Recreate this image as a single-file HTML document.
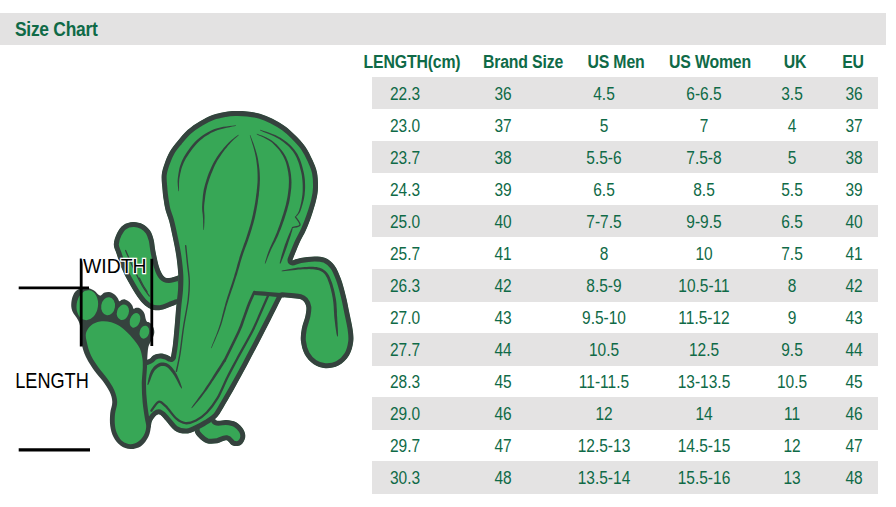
<!DOCTYPE html>
<html lang="en">
<head>
<meta charset="utf-8">
<title>Size Chart</title>
<style>
html,body{margin:0;padding:0;background:#fff;}
body{width:896px;height:507px;position:relative;overflow:hidden;font-family:"Liberation Sans",sans-serif;color:#0f6a47;}
.bar{position:absolute;left:0;top:13px;width:886px;height:32px;background:#e3e2e2;}
.title{position:absolute;left:15px;top:17.3px;font-size:20px;font-weight:bold;line-height:24px;white-space:nowrap;transform-origin:0 50%;transform:scaleX(.87);letter-spacing:-0.3px;}
.hrow{position:absolute;left:0;top:49px;width:896px;height:26px;}
.h{position:absolute;top:0.4px;width:200px;text-align:center;font-size:18px;font-weight:bold;line-height:26px;white-space:nowrap;transform:scaleX(.88);letter-spacing:-0.2px;}
.row{position:absolute;left:372px;width:506px;height:32.3px;}
.row.g{background:#e4e3e3;}
.d{position:absolute;top:1px;width:100px;margin-left:-372px;text-align:center;font-size:17.5px;line-height:32px;white-space:nowrap;transform:scaleX(.885);}
svg{position:absolute;left:0;top:0;}
</style>
</head>
<body>
<div class="bar"></div>
<div class="title">Size Chart</div>
<div class="hrow">
<span class="h" style="left:311.9px">LENGTH(cm)</span>
<span class="h" style="left:423.2px">Brand Size</span>
<span class="h" style="left:515.8px">US Men</span>
<span class="h" style="left:610.4px">US Women</span>
<span class="h" style="left:694.5px">UK</span>
<span class="h" style="left:752.6px">EU</span>
</div>
<div class="row g" style="top:77.00px">
<span class="d" style="left:355.0px">22.3</span>
<span class="d" style="left:453.2px">36</span>
<span class="d" style="left:554.0px">4.5</span>
<span class="d" style="left:653.5px">6-6.5</span>
<span class="d" style="left:742.0px">3.5</span>
<span class="d" style="left:804.0px">36</span>
</div>
<div class="row" style="top:109.04px">
<span class="d" style="left:355.0px">23.0</span>
<span class="d" style="left:453.2px">37</span>
<span class="d" style="left:554.0px">5</span>
<span class="d" style="left:653.5px">7</span>
<span class="d" style="left:742.0px">4</span>
<span class="d" style="left:804.0px">37</span>
</div>
<div class="row g" style="top:141.08px">
<span class="d" style="left:355.0px">23.7</span>
<span class="d" style="left:453.2px">38</span>
<span class="d" style="left:554.0px">5.5-6</span>
<span class="d" style="left:653.5px">7.5-8</span>
<span class="d" style="left:742.0px">5</span>
<span class="d" style="left:804.0px">38</span>
</div>
<div class="row" style="top:173.12px">
<span class="d" style="left:355.0px">24.3</span>
<span class="d" style="left:453.2px">39</span>
<span class="d" style="left:554.0px">6.5</span>
<span class="d" style="left:653.5px">8.5</span>
<span class="d" style="left:742.0px">5.5</span>
<span class="d" style="left:804.0px">39</span>
</div>
<div class="row g" style="top:205.16px">
<span class="d" style="left:355.0px">25.0</span>
<span class="d" style="left:453.2px">40</span>
<span class="d" style="left:554.0px">7-7.5</span>
<span class="d" style="left:653.5px">9-9.5</span>
<span class="d" style="left:742.0px">6.5</span>
<span class="d" style="left:804.0px">40</span>
</div>
<div class="row" style="top:237.20px">
<span class="d" style="left:355.0px">25.7</span>
<span class="d" style="left:453.2px">41</span>
<span class="d" style="left:554.0px">8</span>
<span class="d" style="left:653.5px">10</span>
<span class="d" style="left:742.0px">7.5</span>
<span class="d" style="left:804.0px">41</span>
</div>
<div class="row g" style="top:269.24px">
<span class="d" style="left:355.0px">26.3</span>
<span class="d" style="left:453.2px">42</span>
<span class="d" style="left:554.0px">8.5-9</span>
<span class="d" style="left:653.5px">10.5-11</span>
<span class="d" style="left:742.0px">8</span>
<span class="d" style="left:804.0px">42</span>
</div>
<div class="row" style="top:301.28px">
<span class="d" style="left:355.0px">27.0</span>
<span class="d" style="left:453.2px">43</span>
<span class="d" style="left:554.0px">9.5-10</span>
<span class="d" style="left:653.5px">11.5-12</span>
<span class="d" style="left:742.0px">9</span>
<span class="d" style="left:804.0px">43</span>
</div>
<div class="row g" style="top:333.32px">
<span class="d" style="left:355.0px">27.7</span>
<span class="d" style="left:453.2px">44</span>
<span class="d" style="left:554.0px">10.5</span>
<span class="d" style="left:653.5px">12.5</span>
<span class="d" style="left:742.0px">9.5</span>
<span class="d" style="left:804.0px">44</span>
</div>
<div class="row" style="top:365.36px">
<span class="d" style="left:355.0px">28.3</span>
<span class="d" style="left:453.2px">45</span>
<span class="d" style="left:554.0px">11-11.5</span>
<span class="d" style="left:653.5px">13-13.5</span>
<span class="d" style="left:742.0px">10.5</span>
<span class="d" style="left:804.0px">45</span>
</div>
<div class="row g" style="top:397.40px">
<span class="d" style="left:355.0px">29.0</span>
<span class="d" style="left:453.2px">46</span>
<span class="d" style="left:554.0px">12</span>
<span class="d" style="left:653.5px">14</span>
<span class="d" style="left:742.0px">11</span>
<span class="d" style="left:804.0px">46</span>
</div>
<div class="row" style="top:429.44px">
<span class="d" style="left:355.0px">29.7</span>
<span class="d" style="left:453.2px">47</span>
<span class="d" style="left:554.0px">12.5-13</span>
<span class="d" style="left:653.5px">14.5-15</span>
<span class="d" style="left:742.0px">12</span>
<span class="d" style="left:804.0px">47</span>
</div>
<div class="row g" style="top:461.48px">
<span class="d" style="left:355.0px">30.3</span>
<span class="d" style="left:453.2px">48</span>
<span class="d" style="left:554.0px">13.5-14</span>
<span class="d" style="left:653.5px">15.5-16</span>
<span class="d" style="left:742.0px">13</span>
<span class="d" style="left:804.0px">48</span>
</div>
<svg width="896" height="507" viewBox="0 0 896 507">
<clipPath id="sf"><path d="M213.0,414.0C213.6,415.1 214.4,419.5 216.6,420.5C218.8,421.5 223.1,419.7 226.4,420.0C229.7,420.3 233.4,420.7 236.2,422.3C239.0,423.9 241.9,427.0 243.4,429.5C244.9,432.0 245.6,434.9 245.2,437.5C244.8,440.1 242.8,443.7 240.7,445.0C238.6,446.3 235.1,446.3 232.7,445.5C230.3,444.7 228.9,440.6 226.4,440.2C223.9,439.8 220.8,442.7 217.5,443.2C214.2,443.7 209.9,444.1 206.8,443.2C203.7,442.2 200.7,439.6 198.7,437.5C196.7,435.4 194.7,433.3 194.6,430.4C194.5,427.5 194.9,422.7 198.0,420.0C201.1,417.3 210.5,415.0 213.0,414.0Z"/></clipPath>
<path d="M213.0,414.0C213.6,415.1 214.4,419.5 216.6,420.5C218.8,421.5 223.1,419.7 226.4,420.0C229.7,420.3 233.4,420.7 236.2,422.3C239.0,423.9 241.9,427.0 243.4,429.5C244.9,432.0 245.6,434.9 245.2,437.5C244.8,440.1 242.8,443.7 240.7,445.0C238.6,446.3 235.1,446.3 232.7,445.5C230.3,444.7 228.9,440.6 226.4,440.2C223.9,439.8 220.8,442.7 217.5,443.2C214.2,443.7 209.9,444.1 206.8,443.2C203.7,442.2 200.7,439.6 198.7,437.5C196.7,435.4 194.7,433.3 194.6,430.4C194.5,427.5 194.9,422.7 198.0,420.0C201.1,417.3 210.5,415.0 213.0,414.0Z" fill="#37a756" stroke="#35423e" stroke-width="10.0" stroke-linejoin="round" clip-path="url(#sf)"/>
<clipPath id="la"><path d="M182.0,273.0C181.3,273.4 180.2,274.7 178.0,275.5C175.8,276.3 171.4,277.9 169.0,278.0C166.6,278.1 165.2,277.9 163.5,276.0C161.8,274.1 160.2,270.7 158.9,266.5C157.6,262.3 156.3,255.5 155.4,251.0C154.5,246.5 154.5,242.9 153.6,239.5C152.7,236.1 151.8,233.0 150.0,230.5C148.2,228.0 145.7,225.7 142.9,224.3C140.1,222.9 136.3,221.9 133.0,222.1C129.7,222.2 125.9,223.3 123.2,225.2C120.5,227.0 118.6,230.0 117.0,233.2C115.4,236.4 113.8,241.1 113.8,244.6C113.8,248.1 115.5,250.4 116.8,254.4C118.1,258.4 119.9,264.0 121.7,268.3C123.5,272.6 125.1,275.8 127.4,280.0C129.7,284.2 132.7,289.4 135.3,293.4C137.9,297.3 140.7,301.1 143.2,303.7C145.7,306.3 148.0,307.7 150.3,308.8C152.6,309.9 154.9,310.2 157.0,310.3C159.1,310.4 160.4,310.3 163.0,309.6C165.6,308.9 170.1,306.9 172.4,306.0C174.8,305.1 175.2,304.8 177.1,304.0C179.0,303.2 183.2,306.7 184.0,301.5C184.8,296.3 182.3,277.8 182.0,273.0Z"/></clipPath>
<path d="M182.0,273.0C181.3,273.4 180.2,274.7 178.0,275.5C175.8,276.3 171.4,277.9 169.0,278.0C166.6,278.1 165.2,277.9 163.5,276.0C161.8,274.1 160.2,270.7 158.9,266.5C157.6,262.3 156.3,255.5 155.4,251.0C154.5,246.5 154.5,242.9 153.6,239.5C152.7,236.1 151.8,233.0 150.0,230.5C148.2,228.0 145.7,225.7 142.9,224.3C140.1,222.9 136.3,221.9 133.0,222.1C129.7,222.2 125.9,223.3 123.2,225.2C120.5,227.0 118.6,230.0 117.0,233.2C115.4,236.4 113.8,241.1 113.8,244.6C113.8,248.1 115.5,250.4 116.8,254.4C118.1,258.4 119.9,264.0 121.7,268.3C123.5,272.6 125.1,275.8 127.4,280.0C129.7,284.2 132.7,289.4 135.3,293.4C137.9,297.3 140.7,301.1 143.2,303.7C145.7,306.3 148.0,307.7 150.3,308.8C152.6,309.9 154.9,310.2 157.0,310.3C159.1,310.4 160.4,310.3 163.0,309.6C165.6,308.9 170.1,306.9 172.4,306.0C174.8,305.1 175.2,304.8 177.1,304.0C179.0,303.2 183.2,306.7 184.0,301.5C184.8,296.3 182.3,277.8 182.0,273.0Z" fill="#37a756" stroke="#35423e" stroke-width="10.0" stroke-linejoin="round" clip-path="url(#la)"/>
<path d="M125.6,250.5C126.9,253.5 130.7,262.4 133.5,268.3C136.3,274.2 139.8,281.4 142.4,286.0C145.0,290.6 148.2,294.3 149.3,296.0" fill="none" stroke="#35423e" stroke-width="1.3" stroke-linecap="round" />
<path d="M139.4,278.0C140.0,279.2 141.7,282.7 143.0,285.0C144.3,287.3 146.6,290.8 147.3,292.0" fill="none" stroke="#35423e" stroke-width="1.1" stroke-linecap="round" />
<clipPath id="mb"><path d="M171.0,357.0C171.3,354.9 172.3,349.6 172.9,344.6C173.5,339.6 174.0,333.4 174.6,326.8C175.2,320.2 175.8,311.1 176.4,305.0C177.0,298.9 177.7,295.0 178.0,290.0C178.3,285.0 178.6,280.7 178.3,275.0C178.0,269.3 177.2,262.3 176.3,256.0C175.4,249.7 173.9,242.8 172.7,237.0C171.5,231.2 170.3,225.5 169.1,221.0C167.9,216.5 166.4,213.5 165.5,210.0C164.6,206.5 164.2,203.3 163.7,200.0C163.2,196.7 162.8,194.2 162.5,190.0C162.2,185.8 161.3,179.6 161.7,175.0C162.1,170.4 163.6,166.5 165.0,162.5C166.4,158.5 167.9,154.8 170.0,151.2C172.1,147.6 174.6,144.7 177.5,141.2C180.4,137.7 183.8,133.3 187.5,130.0C191.2,126.7 195.8,123.7 200.0,121.2C204.2,118.7 208.3,116.5 212.5,115.0C216.7,113.5 221.2,112.7 225.0,112.0C228.8,111.3 231.2,111.1 235.0,111.0C238.8,110.9 243.3,111.0 247.5,111.5C251.7,112.0 255.8,112.5 260.0,113.7C264.2,114.9 268.3,116.6 272.5,118.7C276.7,120.8 281.2,123.5 285.0,126.2C288.8,128.9 291.7,131.7 295.0,135.0C298.3,138.3 302.1,142.0 305.0,146.2C307.9,150.4 310.5,155.6 312.5,160.0C314.5,164.4 316.1,167.9 317.0,172.5C317.9,177.1 318.1,182.9 318.0,187.5C317.9,192.1 317.3,195.1 316.2,200.0C315.1,204.9 312.9,211.7 311.2,216.7C309.5,221.7 308.0,225.4 306.0,230.0C304.0,234.6 301.2,239.0 299.0,244.0C296.8,249.0 293.6,257.3 292.5,260.0L292.5,260.5C293.8,260.1 296.7,258.7 300.4,258.0C304.1,257.3 310.4,256.4 314.6,256.4C318.8,256.4 322.2,256.5 325.5,258.0C328.8,259.5 331.9,262.1 334.5,265.5C337.1,268.9 338.9,273.5 340.8,278.6C342.7,283.7 344.4,290.4 345.8,296.0C347.2,301.6 348.1,306.5 349.2,312.0C350.3,317.5 351.9,324.0 352.6,329.0C353.3,334.0 353.8,337.6 353.2,342.0C352.6,346.4 351.4,351.6 349.0,355.5C346.6,359.4 342.4,363.5 338.5,365.6C334.6,367.7 329.5,368.4 325.4,368.2C321.3,368.0 317.1,366.6 313.7,364.3C310.3,362.0 306.9,358.4 304.8,354.5C302.7,350.6 301.4,345.3 300.9,341.0C300.4,336.7 301.1,332.8 301.8,328.6C302.6,324.4 304.6,319.6 305.4,316.0C306.1,312.4 306.6,309.4 306.3,307.0C306.0,304.6 304.7,302.6 303.6,301.3C302.5,300.0 301.9,299.6 299.8,299.0C297.7,298.4 294.0,298.3 291.0,298.0C288.0,297.7 283.5,297.4 282.0,297.3L282.0,297.3C280.1,301.1 274.5,312.4 270.6,320.0C266.7,327.6 262.7,335.5 258.8,343.0C254.9,350.5 251.1,357.7 247.2,365.0C243.3,372.3 238.8,380.5 235.2,387.0C231.6,393.5 228.4,399.0 225.4,404.0C222.4,409.0 220.3,413.6 217.2,417.0C214.1,420.4 210.5,422.3 207.0,424.5C203.5,426.7 199.6,428.9 196.0,430.4C192.4,431.9 189.0,433.6 185.4,433.6C181.8,433.6 177.9,432.6 174.6,430.4C171.3,428.2 168.4,423.2 165.7,420.5C163.0,417.8 160.8,414.3 158.6,414.3C156.4,414.3 153.8,418.1 152.3,420.5C150.8,422.9 151.7,426.7 149.6,428.6C147.5,430.5 141.6,431.4 140.0,432.0L140.0,432.0C139.7,425.8 138.0,406.7 138.0,395.0C138.0,383.3 139.7,367.5 140.0,362.0L140.0,362.0C141.5,361.5 146.8,360.2 149.1,359.1C151.4,358.0 151.7,356.1 153.6,355.2C155.5,354.3 158.3,353.6 160.3,353.5C162.3,353.4 164.0,354.0 165.8,354.6C167.6,355.2 170.1,356.6 171.0,357.0Z"/></clipPath>
<path d="M171.0,357.0C171.3,354.9 172.3,349.6 172.9,344.6C173.5,339.6 174.0,333.4 174.6,326.8C175.2,320.2 175.8,311.1 176.4,305.0C177.0,298.9 177.7,295.0 178.0,290.0C178.3,285.0 178.6,280.7 178.3,275.0C178.0,269.3 177.2,262.3 176.3,256.0C175.4,249.7 173.9,242.8 172.7,237.0C171.5,231.2 170.3,225.5 169.1,221.0C167.9,216.5 166.4,213.5 165.5,210.0C164.6,206.5 164.2,203.3 163.7,200.0C163.2,196.7 162.8,194.2 162.5,190.0C162.2,185.8 161.3,179.6 161.7,175.0C162.1,170.4 163.6,166.5 165.0,162.5C166.4,158.5 167.9,154.8 170.0,151.2C172.1,147.6 174.6,144.7 177.5,141.2C180.4,137.7 183.8,133.3 187.5,130.0C191.2,126.7 195.8,123.7 200.0,121.2C204.2,118.7 208.3,116.5 212.5,115.0C216.7,113.5 221.2,112.7 225.0,112.0C228.8,111.3 231.2,111.1 235.0,111.0C238.8,110.9 243.3,111.0 247.5,111.5C251.7,112.0 255.8,112.5 260.0,113.7C264.2,114.9 268.3,116.6 272.5,118.7C276.7,120.8 281.2,123.5 285.0,126.2C288.8,128.9 291.7,131.7 295.0,135.0C298.3,138.3 302.1,142.0 305.0,146.2C307.9,150.4 310.5,155.6 312.5,160.0C314.5,164.4 316.1,167.9 317.0,172.5C317.9,177.1 318.1,182.9 318.0,187.5C317.9,192.1 317.3,195.1 316.2,200.0C315.1,204.9 312.9,211.7 311.2,216.7C309.5,221.7 308.0,225.4 306.0,230.0C304.0,234.6 301.2,239.0 299.0,244.0C296.8,249.0 293.6,257.3 292.5,260.0L292.5,260.5C293.8,260.1 296.7,258.7 300.4,258.0C304.1,257.3 310.4,256.4 314.6,256.4C318.8,256.4 322.2,256.5 325.5,258.0C328.8,259.5 331.9,262.1 334.5,265.5C337.1,268.9 338.9,273.5 340.8,278.6C342.7,283.7 344.4,290.4 345.8,296.0C347.2,301.6 348.1,306.5 349.2,312.0C350.3,317.5 351.9,324.0 352.6,329.0C353.3,334.0 353.8,337.6 353.2,342.0C352.6,346.4 351.4,351.6 349.0,355.5C346.6,359.4 342.4,363.5 338.5,365.6C334.6,367.7 329.5,368.4 325.4,368.2C321.3,368.0 317.1,366.6 313.7,364.3C310.3,362.0 306.9,358.4 304.8,354.5C302.7,350.6 301.4,345.3 300.9,341.0C300.4,336.7 301.1,332.8 301.8,328.6C302.6,324.4 304.6,319.6 305.4,316.0C306.1,312.4 306.6,309.4 306.3,307.0C306.0,304.6 304.7,302.6 303.6,301.3C302.5,300.0 301.9,299.6 299.8,299.0C297.7,298.4 294.0,298.3 291.0,298.0C288.0,297.7 283.5,297.4 282.0,297.3L282.0,297.3C280.1,301.1 274.5,312.4 270.6,320.0C266.7,327.6 262.7,335.5 258.8,343.0C254.9,350.5 251.1,357.7 247.2,365.0C243.3,372.3 238.8,380.5 235.2,387.0C231.6,393.5 228.4,399.0 225.4,404.0C222.4,409.0 220.3,413.6 217.2,417.0C214.1,420.4 210.5,422.3 207.0,424.5C203.5,426.7 199.6,428.9 196.0,430.4C192.4,431.9 189.0,433.6 185.4,433.6C181.8,433.6 177.9,432.6 174.6,430.4C171.3,428.2 168.4,423.2 165.7,420.5C163.0,417.8 160.8,414.3 158.6,414.3C156.4,414.3 153.8,418.1 152.3,420.5C150.8,422.9 151.7,426.7 149.6,428.6C147.5,430.5 141.6,431.4 140.0,432.0L140.0,432.0C139.7,425.8 138.0,406.7 138.0,395.0C138.0,383.3 139.7,367.5 140.0,362.0L140.0,362.0C141.5,361.5 146.8,360.2 149.1,359.1C151.4,358.0 151.7,356.1 153.6,355.2C155.5,354.3 158.3,353.6 160.3,353.5C162.3,353.4 164.0,354.0 165.8,354.6C167.6,355.2 170.1,356.6 171.0,357.0Z" fill="#37a756" stroke="#35423e" stroke-width="10.0" stroke-linejoin="round" clip-path="url(#mb)"/>
<path d="M236.0,125.3L234.3,125.4L232.1,125.7L229.4,126.0L226.5,126.4L223.4,126.8L220.3,127.4L217.3,128.2L214.6,129.1L212.2,130.1L209.8,131.2L207.4,132.4L205.2,133.7L202.9,135.2L200.8,136.7L198.7,138.4L196.6,140.3L194.6,142.3L192.6,144.6L190.6,147.0L188.8,149.4L187.0,152.0L185.4,154.6L183.9,157.1L182.6,159.5L181.6,161.8L180.7,164.2L179.9,166.5L179.3,168.8L178.9,171.1L178.5,173.2L178.2,175.4L177.9,177.4L177.7,179.4L177.6,181.5L177.7,183.5L177.8,185.5L178.0,187.3L178.2,188.9L178.3,190.2L178.5,191.2L178.9,191.2L179.0,190.2L179.0,188.8L179.0,187.2L179.0,185.4L179.0,183.5L179.1,181.5L179.2,179.6L179.5,177.6L179.9,175.7L180.3,173.6L180.8,171.5L181.3,169.3L182.0,167.1L182.8,164.9L183.7,162.7L184.8,160.5L186.0,158.3L187.5,155.9L189.1,153.4L190.9,151.0L192.7,148.6L194.6,146.2L196.5,144.1L198.4,142.1L200.3,140.3L202.3,138.7L204.3,137.1L206.4,135.7L208.6,134.4L210.8,133.1L213.1,132.0L215.4,130.9L217.9,130.0L220.7,129.2L223.7,128.4L226.7,127.7L229.6,127.2L232.2,126.6L234.4,126.2L236.0,125.7Z" fill="#35423e"/>
<path d="M238.3,134.8L237.4,135.5L236.3,136.3L234.9,137.3L233.4,138.5L231.8,139.8L230.1,141.2L228.5,142.8L226.9,144.5L225.3,146.2L223.7,148.1L222.0,150.2L220.3,152.3L218.6,154.6L216.9,157.0L215.4,159.4L213.9,161.9L212.6,164.5L211.3,167.3L210.0,170.2L208.8,173.1L207.7,176.1L206.7,179.0L205.8,181.9L205.0,184.7L204.3,187.4L203.7,190.1L203.3,192.8L202.9,195.5L202.7,198.1L202.5,200.5L202.3,202.8L202.2,204.9L202.1,206.8L202.1,208.6L202.2,210.1L202.3,211.5L202.5,212.9L202.7,214.2L202.8,215.6L202.9,217.0L203.0,218.7L203.1,220.5L203.1,222.4L203.2,224.2L203.2,226.0L203.3,227.6L203.4,229.0L203.5,230.0L203.9,230.0L204.0,229.0L204.1,227.6L204.2,226.0L204.3,224.3L204.4,222.4L204.4,220.5L204.5,218.7L204.5,217.0L204.5,215.5L204.4,214.0L204.3,212.7L204.2,211.4L204.1,210.0L204.1,208.5L204.1,206.9L204.2,205.1L204.4,203.0L204.7,200.7L205.0,198.3L205.3,195.8L205.7,193.2L206.2,190.6L206.8,188.0L207.4,185.3L208.2,182.7L209.1,179.8L210.1,177.0L211.2,174.1L212.4,171.2L213.6,168.3L214.8,165.6L216.1,163.1L217.4,160.6L218.9,158.2L220.4,155.9L222.0,153.6L223.5,151.4L225.1,149.3L226.7,147.4L228.1,145.5L229.6,143.9L231.1,142.2L232.6,140.7L234.1,139.3L235.6,138.1L236.8,136.9L237.9,136.0L238.7,135.2Z" fill="#35423e"/>
<path d="M249.8,135.1L250.2,136.7L250.8,138.7L251.6,141.2L252.4,143.9L253.3,146.8L254.1,149.7L254.8,152.6L255.4,155.2L255.9,157.7L256.3,160.2L256.6,162.6L256.9,165.1L257.2,167.6L257.4,170.1L257.5,172.6L257.6,175.0L257.6,177.5L257.6,179.9L257.5,182.4L257.3,184.8L257.1,187.3L256.8,189.8L256.6,192.3L256.2,194.8L255.9,197.5L255.5,200.2L255.1,203.0L254.6,205.7L254.1,208.5L253.5,211.2L253.0,213.9L252.4,216.4L251.9,218.8L251.3,221.1L250.7,223.4L250.1,225.6L249.4,227.8L248.7,230.0L248.0,232.3L247.3,234.6L246.5,237.0L245.7,239.4L244.8,241.9L243.9,244.3L243.0,246.9L242.1,249.4L241.2,252.0L240.4,254.6L239.5,257.3L238.8,259.9L238.0,262.6L237.2,265.3L236.5,268.1L235.7,270.9L234.8,273.7L234.0,276.7L233.0,279.7L232.0,282.9L230.9,286.2L229.8,289.6L228.7,292.9L227.6,296.3L226.6,299.5L225.6,302.7L224.8,305.9L223.9,308.9L223.2,312.0L222.4,315.0L221.7,318.0L220.9,320.9L220.1,323.8L219.2,326.6L218.2,329.5L217.1,332.6L215.9,335.7L214.6,338.8L213.5,341.7L212.4,344.3L211.6,346.4L211.0,348.1L211.4,348.3L212.2,346.7L213.1,344.6L214.3,342.0L215.5,339.2L216.8,336.1L218.1,333.0L219.3,329.9L220.4,327.0L221.4,324.2L222.3,321.3L223.1,318.3L223.9,315.4L224.7,312.4L225.6,309.4L226.4,306.3L227.4,303.3L228.4,300.1L229.4,296.9L230.6,293.5L231.7,290.2L232.9,286.9L234.0,283.6L235.0,280.4L236.0,277.3L237.0,274.4L237.8,271.5L238.7,268.7L239.5,265.9L240.2,263.3L241.0,260.6L241.8,258.0L242.6,255.4L243.5,252.8L244.4,250.2L245.3,247.7L246.3,245.2L247.2,242.7L248.1,240.3L248.9,237.8L249.7,235.4L250.5,233.0L251.2,230.8L251.9,228.5L252.5,226.3L253.2,224.1L253.8,221.8L254.4,219.4L255.0,217.0L255.5,214.4L256.1,211.7L256.6,209.0L257.1,206.2L257.6,203.4L258.0,200.6L258.4,197.8L258.8,195.2L259.0,192.6L259.3,190.0L259.5,187.5L259.7,185.0L259.8,182.5L259.9,180.0L259.9,177.5L259.8,175.0L259.7,172.4L259.5,169.9L259.2,167.4L258.9,164.9L258.5,162.4L258.1,159.8L257.6,157.3L257.0,154.8L256.3,152.2L255.4,149.3L254.5,146.4L253.5,143.6L252.5,140.9L251.6,138.5L250.8,136.4L250.2,134.9Z" fill="#35423e"/>
<path d="M256.7,134.2L257.9,134.9L259.5,135.7L261.5,136.6L263.6,137.6L265.9,138.7L268.1,139.9L270.2,141.2L272.0,142.6L273.7,144.2L275.4,145.9L277.1,147.7L278.7,149.6L280.2,151.6L281.6,153.7L282.9,155.8L284.0,158.0L285.0,160.2L285.9,162.5L286.6,165.0L287.2,167.5L287.7,170.0L288.2,172.6L288.5,175.1L288.8,177.6L288.9,180.1L288.9,182.5L288.8,185.0L288.7,187.4L288.4,189.9L288.1,192.4L287.8,194.8L287.4,197.3L286.9,199.7L286.4,202.1L285.9,204.5L285.2,206.9L284.6,209.2L283.9,211.6L283.2,214.0L282.4,216.3L281.7,218.6L280.9,221.0L280.1,223.3L279.3,225.7L278.4,228.0L277.6,230.2L276.8,232.4L275.9,234.6L275.1,236.6L274.2,238.5L273.4,240.5L272.5,242.3L271.6,244.2L270.8,246.0L270.0,247.8L269.2,249.7L268.5,251.6L267.8,253.6L267.1,255.6L266.5,257.6L265.9,259.4L265.4,261.1L265.0,262.5L264.8,263.6L265.2,263.8L265.7,262.8L266.3,261.4L266.9,259.8L267.6,258.0L268.4,256.1L269.2,254.1L270.0,252.2L270.8,250.3L271.6,248.6L272.5,246.8L273.4,245.0L274.3,243.2L275.3,241.4L276.2,239.5L277.2,237.5L278.1,235.4L279.0,233.3L279.9,231.1L280.8,228.9L281.7,226.6L282.5,224.2L283.4,221.8L284.2,219.5L285.0,217.1L285.7,214.7L286.4,212.4L287.2,210.0L287.8,207.6L288.5,205.1L289.1,202.7L289.6,200.2L290.0,197.7L290.4,195.2L290.7,192.7L291.0,190.2L291.3,187.7L291.4,185.1L291.5,182.5L291.4,180.0L291.2,177.4L291.0,174.8L290.6,172.2L290.1,169.6L289.5,166.9L288.8,164.4L288.0,161.8L287.0,159.4L286.0,157.0L284.7,154.8L283.3,152.6L281.8,150.4L280.1,148.4L278.4,146.5L276.6,144.6L274.8,142.9L273.0,141.4L271.0,140.0L268.8,138.7L266.4,137.5L264.1,136.5L261.9,135.6L259.9,134.9L258.2,134.2L256.9,133.8Z" fill="#35423e"/>
<path d="M259.9,130.2L261.4,131.0L263.5,131.9L266.1,132.9L268.8,134.0L271.7,135.2L274.5,136.5L277.2,137.9L279.5,139.3L281.6,140.7L283.7,142.3L285.7,143.9L287.6,145.6L289.4,147.3L291.1,149.2L292.6,151.1L294.0,153.1L295.3,155.3L296.5,157.6L297.5,160.0L298.5,162.5L299.3,165.1L300.0,167.7L300.7,170.3L301.3,172.8L301.8,175.2L302.1,177.7L302.4,180.2L302.6,182.7L302.7,185.2L302.7,187.7L302.7,190.1L302.6,192.4L302.4,194.8L302.1,197.1L301.7,199.5L301.3,201.9L300.8,204.1L300.3,206.2L299.8,208.1L299.3,209.8L298.8,211.2L298.3,212.3L297.7,213.4L297.1,214.3L296.5,215.0L296.0,215.7L295.6,216.3L295.3,216.8L295.7,217.2L296.1,216.8L296.6,216.3L297.2,215.7L297.9,214.9L298.6,214.0L299.4,213.0L300.1,211.7L300.7,210.2L301.3,208.6L301.9,206.6L302.5,204.5L303.1,202.3L303.7,199.9L304.2,197.5L304.6,195.0L304.8,192.6L305.0,190.2L305.1,187.7L305.1,185.2L305.0,182.6L304.9,180.0L304.6,177.4L304.2,174.8L303.7,172.2L303.1,169.7L302.4,167.0L301.7,164.4L300.8,161.7L299.8,159.1L298.6,156.6L297.4,154.1L296.0,151.9L294.4,149.7L292.7,147.7L290.9,145.8L289.0,144.0L287.0,142.3L284.9,140.7L282.7,139.2L280.5,137.7L278.0,136.4L275.2,135.1L272.3,133.9L269.3,132.8L266.5,131.8L263.9,130.9L261.7,130.2L260.1,129.8Z" fill="#35423e"/>
<path d="M295.5,217.0C296.2,218.3 300.5,223.2 300.0,225.0C299.5,226.8 293.8,227.1 292.5,227.5" fill="none" stroke="#35423e" stroke-width="1.3" stroke-linecap="round" />
<path d="M292.2,227.4L291.5,228.6L290.7,230.4L289.8,232.4L288.8,234.7L287.8,237.2L286.8,239.7L285.9,242.2L285.0,244.6L284.2,247.0L283.4,249.6L282.5,252.4L281.7,255.1L281.0,257.7L280.4,260.1L279.9,262.1L279.7,263.6L280.3,263.8L281.0,262.4L281.8,260.5L282.7,258.3L283.7,255.8L284.7,253.1L285.6,250.4L286.6,247.8L287.4,245.4L288.2,243.0L289.0,240.5L289.9,238.0L290.7,235.4L291.4,233.0L292.1,230.9L292.5,229.0L292.8,227.6Z" fill="#35423e"/>
<path d="M185.7,245.7C186.0,248.7 186.9,257.7 187.5,263.6C188.1,269.6 189.2,275.3 189.3,281.4C189.4,287.5 189.1,292.4 188.2,300.0C187.2,307.6 185.0,317.9 183.6,326.8C182.2,335.7 181.2,346.2 180.0,353.6C178.8,361.0 177.0,368.4 176.4,371.4" fill="none" stroke="#35423e" stroke-width="1.4" stroke-linecap="round" />
<path d="M254.3,292.0C253.4,294.2 250.4,300.3 248.6,305.0C246.8,309.7 244.8,315.7 243.2,320.0C241.6,324.3 242.1,324.2 239.0,331.0C235.9,337.8 227.0,355.8 224.6,360.7" fill="none" stroke="#35423e" stroke-width="2.6" stroke-linecap="round" />
<path d="M225.2,358.8L223.5,359.7L222.3,361.6L220.9,363.9L219.3,366.4L217.6,369.0L216.0,371.6L214.4,374.1L213.0,376.3L211.7,378.4L210.5,380.3L209.3,382.2L208.1,384.0L206.9,385.8L205.7,387.6L204.5,389.5L203.2,391.4L201.7,393.5L200.0,395.7L198.3,398.1L196.6,400.4L194.9,402.7L193.4,404.7L192.2,406.4L191.4,407.8L191.8,408.2L193.0,407.1L194.4,405.5L196.0,403.6L197.8,401.4L199.7,399.2L201.5,396.9L203.3,394.6L204.8,392.6L206.2,390.7L207.5,388.9L208.8,387.1L210.0,385.3L211.2,383.4L212.4,381.6L213.7,379.7L215.0,377.7L216.5,375.4L218.1,373.0L219.8,370.4L221.5,367.8L223.1,365.3L224.5,363.0L225.7,361.1L225.8,359.2Z" fill="#35423e"/>
<path d="M254.3,293.0C256.6,293.2 263.1,293.6 268.0,294.0C272.9,294.4 281.3,295.2 284.0,295.4" fill="none" stroke="#35423e" stroke-width="4.2" stroke-linecap="round" style="stroke-linecap:butt"/>
<path d="M268.6,294.5C267.2,297.6 263.2,306.9 260.5,313.0C257.8,319.1 256.3,323.3 252.4,331.0C248.5,338.7 241.2,351.3 237.1,359.0C233.0,366.7 230.9,370.5 227.6,377.0C224.3,383.5 221.0,392.3 217.5,398.2C214.0,404.1 210.4,408.8 206.8,412.5C203.2,416.2 199.6,418.7 196.0,420.5C192.4,422.3 188.7,423.5 185.4,423.2C182.1,422.9 179.7,421.5 176.4,418.7C173.1,415.9 168.7,409.0 165.7,406.2C162.7,403.4 161.0,401.1 158.6,401.8C156.2,402.6 152.6,409.2 151.4,410.7" fill="none" stroke="#35423e" stroke-width="2.3" stroke-linecap="round" />
<path d="M148.1,385.1L148.7,384.1L149.3,382.6L150.0,380.9L150.7,379.0L151.4,377.0L152.1,375.2L152.9,373.5L153.6,372.2L154.3,371.1L155.1,370.1L155.9,369.3L156.8,368.5L157.6,367.8L158.5,367.2L159.3,366.7L160.1,366.4L160.9,366.1L161.7,366.0L162.5,365.9L163.3,365.9L164.1,366.0L165.0,366.3L165.8,366.6L166.6,367.0L167.5,367.6L168.4,368.3L169.3,369.2L170.2,370.2L171.2,371.4L172.1,372.6L173.1,373.9L174.0,375.2L174.9,376.7L175.9,378.5L177.0,380.5L178.0,382.5L179.0,384.4L179.9,386.2L180.8,387.6L181.5,388.6L182.1,388.4L181.8,387.1L181.3,385.6L180.7,383.7L179.9,381.6L179.1,379.5L178.2,377.4L177.3,375.5L176.4,373.8L175.5,372.3L174.6,370.8L173.6,369.5L172.7,368.2L171.6,367.0L170.6,365.9L169.5,365.0L168.4,364.2L167.2,363.5L166.0,363.1L164.8,362.7L163.6,362.5L162.4,362.5L161.2,362.6L160.0,362.8L158.9,363.2L157.8,363.7L156.7,364.4L155.6,365.2L154.6,366.1L153.6,367.1L152.7,368.2L151.8,369.4L151.0,370.8L150.3,372.4L149.6,374.3L149.1,376.3L148.5,378.4L148.1,380.4L147.8,382.2L147.5,383.7L147.5,384.9Z" fill="#35423e"/>
<path d="M281.6,271.3L283.1,271.3L285.1,271.1L287.5,270.8L290.1,270.5L292.9,270.2L295.6,269.9L298.2,269.6L300.5,269.4L302.7,269.3L304.8,269.2L307.0,269.2L309.0,269.1L311.0,269.2L312.9,269.2L314.6,269.4L316.2,269.7L317.6,270.0L318.9,270.3L320.0,270.7L321.0,271.2L321.9,271.7L322.8,272.3L323.6,273.0L324.4,273.8L325.2,274.7L325.8,275.8L326.5,276.9L327.1,278.1L327.7,279.4L328.2,280.9L328.8,282.4L329.3,284.1L329.9,285.8L330.4,287.7L330.9,289.6L331.4,291.7L331.9,293.8L332.3,295.9L332.7,298.1L333.0,300.2L333.3,302.3L333.5,304.5L333.7,306.7L333.8,308.9L333.9,311.1L334.1,313.4L334.2,315.7L334.4,318.0L334.7,320.4L335.0,323.0L335.3,325.7L335.7,328.4L336.1,330.9L336.4,333.2L336.8,335.1L337.2,336.5L337.8,336.5L338.0,335.0L338.0,333.1L337.9,330.8L337.8,328.2L337.6,325.5L337.5,322.8L337.3,320.2L337.2,317.8L337.0,315.5L336.9,313.3L336.9,311.0L336.8,308.7L336.6,306.5L336.5,304.2L336.3,302.0L336.0,299.8L335.6,297.6L335.2,295.4L334.8,293.2L334.3,291.0L333.8,288.9L333.2,286.9L332.7,284.9L332.1,283.1L331.5,281.5L330.9,279.9L330.3,278.4L329.7,276.9L329.0,275.5L328.2,274.3L327.3,273.1L326.4,272.0L325.4,271.0L324.4,270.2L323.3,269.4L322.2,268.8L320.9,268.3L319.6,267.8L318.2,267.5L316.6,267.1L314.9,266.9L313.0,266.8L311.1,266.8L309.0,266.8L306.9,266.9L304.7,267.0L302.5,267.2L300.3,267.4L298.0,267.6L295.3,268.0L292.6,268.4L289.9,268.9L287.3,269.4L284.9,269.9L283.0,270.3L281.6,270.7Z" fill="#35423e"/>
<path d="M85.7,287.5C88.1,287.8 91.7,289.1 94.0,290.5C96.3,291.9 98.1,295.2 99.8,295.6C101.5,296.0 102.5,293.4 104.0,292.8C105.5,292.2 107.4,291.8 109.1,292.0C110.8,292.2 112.8,293.2 114.2,294.2C115.6,295.2 116.7,296.8 117.6,298.0C118.5,299.2 118.7,300.9 119.4,301.2C120.1,301.5 121.0,300.1 122.0,299.8C123.0,299.5 123.8,299.1 125.1,299.5C126.3,299.9 128.3,301.0 129.5,302.0C130.7,303.0 131.6,304.4 132.3,305.5C133.0,306.6 133.0,308.4 133.6,308.8C134.2,309.2 135.1,307.9 136.0,307.8C136.9,307.7 138.1,307.6 139.2,308.0C140.3,308.4 141.6,309.5 142.5,310.5C143.4,311.5 144.1,312.6 144.6,314.0C145.1,315.4 145.3,317.7 145.7,319.0C146.1,320.3 146.5,321.3 147.0,321.8C147.5,322.3 148.1,321.8 148.8,322.2C149.6,322.6 150.7,323.3 151.5,324.2C152.3,325.1 152.9,326.1 153.4,327.5C153.9,328.9 154.4,330.7 154.3,332.4C154.2,334.1 153.5,335.9 152.8,337.6C152.1,339.3 150.9,341.0 150.1,342.7C149.3,344.4 148.7,345.2 148.2,347.8C147.7,350.4 147.5,354.8 147.3,358.0C147.1,361.2 147.2,362.5 147.0,367.0C146.8,371.5 146.0,379.2 146.0,385.0C146.0,390.8 146.4,396.2 147.0,402.0C147.6,407.8 148.9,416.1 149.6,420.0C150.2,423.9 151.1,422.9 150.9,425.7C150.7,428.5 150.1,433.4 148.4,436.8C146.8,440.2 144.0,444.2 141.0,446.2C138.0,448.2 133.8,449.1 130.4,449.0C127.0,448.9 123.3,447.5 120.5,445.5C117.7,443.5 115.2,440.3 113.5,437.0C111.8,433.7 110.8,429.7 110.2,425.7C109.7,421.7 109.9,417.1 110.2,413.2C110.5,409.2 112.4,405.6 112.3,402.0C112.2,398.4 111.2,395.3 109.6,391.8C108.0,388.3 105.4,384.6 102.8,381.0C100.2,377.4 96.9,374.2 94.2,370.4C91.5,366.5 88.5,362.1 86.5,357.9C84.5,353.7 83.3,351.1 82.1,345.4C80.9,339.7 81.1,329.3 79.5,323.6C77.9,317.9 73.6,314.6 72.3,311.0C71.0,307.4 71.1,305.0 71.4,302.0C71.7,299.0 72.8,295.4 74.1,293.2C75.4,291.0 77.6,289.6 79.5,288.7C81.4,287.8 83.3,287.2 85.7,287.5Z" fill="#35423e"/>
<path d="M100.0,321.5C103.4,321.0 107.5,321.2 111.2,322.3C114.9,323.4 118.8,325.3 122.3,327.9C125.8,330.5 129.5,334.5 132.4,337.9C135.3,341.2 137.9,344.6 139.6,348.0C141.2,351.4 141.8,354.8 142.3,358.0C142.8,361.2 142.9,362.5 142.8,367.0C142.7,371.5 141.8,379.2 141.8,385.0C141.8,390.8 142.1,396.5 142.6,402.0C143.1,407.5 144.2,413.8 144.8,418.0C145.4,422.2 146.4,424.1 146.2,427.0C146.0,429.9 145.1,433.0 143.7,435.5C142.3,438.0 140.2,440.3 138.0,441.8C135.8,443.3 133.0,444.4 130.4,444.3C127.8,444.2 124.7,442.9 122.5,441.3C120.3,439.7 118.8,437.1 117.5,434.5C116.2,431.9 115.4,429.1 115.0,425.7C114.6,422.3 114.6,417.9 115.0,414.0C115.4,410.1 117.3,406.0 117.2,402.0C117.1,398.0 115.9,393.9 114.2,390.0C112.5,386.1 109.8,382.2 107.2,378.5C104.6,374.8 101.2,371.3 98.5,367.5C95.8,363.7 92.9,359.6 91.0,355.5C89.1,351.4 87.8,346.8 87.0,343.0C86.2,339.2 85.3,335.9 86.0,333.0C86.7,330.1 88.7,327.3 91.0,325.4C93.3,323.5 96.6,322.0 100.0,321.5Z" fill="#37a756"/>
<ellipse cx="87.3" cy="305.2" rx="10.7" ry="15" fill="#37a756" transform="rotate(8 87.3 305.2)"/>
<ellipse cx="108.1" cy="306.3" rx="6.9" ry="9.1" fill="#37a756" transform="rotate(8 108.1 306.3)"/>
<ellipse cx="122.9" cy="312.3" rx="5.9" ry="7.9" fill="#37a756" transform="rotate(18 122.9 312.3)"/>
<ellipse cx="135" cy="320.3" rx="5.0" ry="7.6" fill="#37a756" transform="rotate(20 135 320.3)"/>
<ellipse cx="144.4" cy="332.2" rx="4.7" ry="6.6" fill="#37a756" transform="rotate(15 144.4 332.2)"/>
<g stroke="#000" stroke-width="2.8" fill="none"><path d="M18.7,287.9H89"/><path d="M81.2,258.5V346.5"/><path d="M151.8,258.8V346"/><path d="M18.7,449.8H90" stroke-width="3.2"/></g>
<text x="83" y="273.1" font-family="Liberation Sans, sans-serif" font-size="20.6" fill="#000" stroke="#fff" stroke-width="2.4" paint-order="stroke" textLength="63.5" lengthAdjust="spacingAndGlyphs">WIDTH</text>
<text x="15.2" y="388.3" font-family="Liberation Sans, sans-serif" font-size="22" fill="#000" textLength="73.6" lengthAdjust="spacingAndGlyphs">LENGTH</text>
</svg>
</body>
</html>
